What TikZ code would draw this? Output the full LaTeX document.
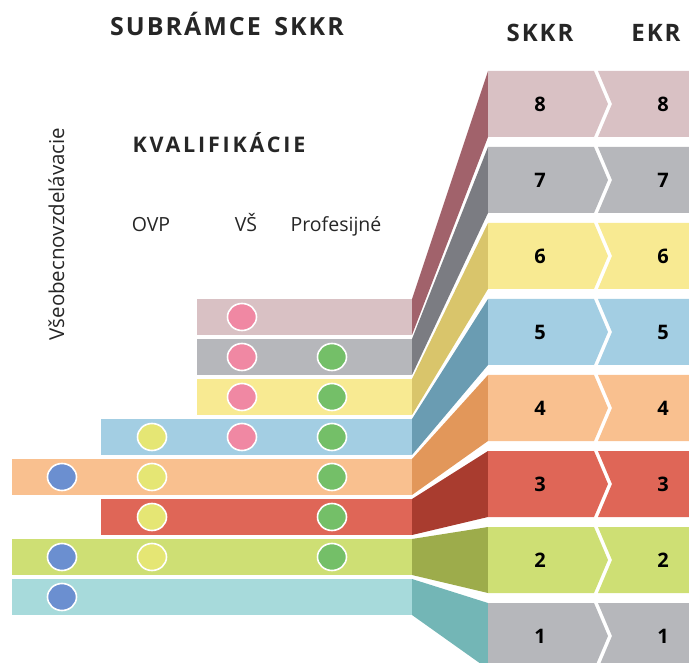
\documentclass[tikz,border=0pt]{standalone}
\usepackage{fontspec}
\setmainfont{Open Sans}
\newfontfamily\headfont[LetterSpace=8]{Open Sans}
\newfontfamily\kvalfont[LetterSpace=13]{Open Sans}
\usepackage{tikz}
\usetikzlibrary{positioning, shapes.geometric}

\definecolor{lv8}{HTML}{D9C1C4}\definecolor{fc8}{HTML}{A1626B}
\definecolor{lv7}{HTML}{B6B7BB}\definecolor{fc7}{HTML}{7B7C82}
\definecolor{lv6}{HTML}{F8EA92}\definecolor{fc6}{HTML}{D9C56B}
\definecolor{lv5}{HTML}{A3CEE3}\definecolor{fc5}{HTML}{6A9CB2}
\definecolor{lv4}{HTML}{F9C08F}\definecolor{fc4}{HTML}{E2975A}
\definecolor{lv3}{HTML}{DF6657}\definecolor{fc3}{HTML}{A93C2F}
\definecolor{lv2}{HTML}{CEDF74}\definecolor{fc2}{HTML}{9DAC4B}
\definecolor{lv1}{HTML}{A7DADB}\definecolor{fc1}{HTML}{73B6B6}
\definecolor{dotpink}{HTML}{F088A3}
\definecolor{dotgreen}{HTML}{74BF68}
\definecolor{dotyellow}{HTML}{E5E674}
\definecolor{dotblue}{HTML}{6B8FD0}

% one level: top of bar, left end of bar, top of block, colours
\newcommand{\level}[6]{%
  \fill[#5] (#2, #1) rectangle (412, #1+36);
  \fill[#6] (412, #1) -- (488, #3) -- (488, #3+66) -- (412, #1+36) -- cycle;
  \fill[#4] (488, #3) -- (594, #3) -- (608, #3+33) -- (594, #3+66) -- (488, #3+66) -- cycle;
  \fill[#4] (598, #3) -- (689, #3) -- (689, #3+66) -- (598, #3+66) -- (612, #3+33) -- cycle;
}

\begin{document}
\begin{tikzpicture}[x=1pt, y=-1pt,
  dot/.style={ellipse, draw=white, line width=1.6pt, minimum width=29pt, minimum height=27pt, inner sep=0pt},
  head/.style={anchor=base, font=\headfont\bfseries\fontsize{24}{28}\selectfont, text=black!85},
  colhead/.style={anchor=base, font=\fontsize{19.5}{22}\selectfont, text=black!85},
  num/.style={font=\bfseries\fontsize{20}{22}\selectfont}]

\useasboundingbox (0, 0) rectangle (689, 663);
\clip (0, 0) rectangle (689, 663);

% Levels
\level{299}{197}{71}{lv8}{lv8}{fc8}
\level{339}{197}{147}{lv7}{lv7}{fc7}
\level{379}{197}{223}{lv6}{lv6}{fc6}
\level{419}{101}{299}{lv5}{lv5}{fc5}
\level{459}{12}{375}{lv4}{lv4}{fc4}
\level{499}{101}{451}{lv3}{lv3}{fc3}
\level{539}{12}{527}{lv2}{lv2}{fc2}
\level{579}{12}{603}{lv7}{lv1}{fc1}

% Level numbers
\node[num] (s8) at (540, 104) {8};
\node[num] (s7) at (540, 180) {7};
\node[num] (s6) at (540, 256) {6};
\node[num] (s5) at (540, 332) {5};
\node[num] (s4) at (540, 408) {4};
\node[num] (s3) at (540, 484) {3};
\node[num] (s2) at (540, 560) {2};
\node[num] (s1) at (540, 636) {1};
\node[num] (e8) at (663, 104) {8};
\node[num] (e7) at (663, 180) {7};
\node[num] (e6) at (663, 256) {6};
\node[num] (e5) at (663, 332) {5};
\node[num] (e4) at (663, 408) {4};
\node[num] (e3) at (663, 484) {3};
\node[num] (e2) at (663, 560) {2};
\node[num] (e1) at (663, 636) {1};

% Qualifications
\node[dot, fill=dotpink] (vs8) at (242, 317) {};
\node[dot, fill=dotpink] (vs7) at (242, 357) {};
\node[dot, fill=dotgreen] (pr7) at (332, 357) {};
\node[dot, fill=dotpink] (vs6) at (242, 397) {};
\node[dot, fill=dotgreen] (pr6) at (332, 397) {};
\node[dot, fill=dotyellow] (ovp5) at (152, 437) {};
\node[dot, fill=dotpink] (vs5) at (242, 437) {};
\node[dot, fill=dotgreen] (pr5) at (332, 437) {};
\node[dot, fill=dotblue] (vv4) at (62, 477) {};
\node[dot, fill=dotyellow] (ovp4) at (152, 477) {};
\node[dot, fill=dotgreen] (pr4) at (332, 477) {};
\node[dot, fill=dotyellow] (ovp3) at (152, 517) {};
\node[dot, fill=dotgreen] (pr3) at (332, 517) {};
\node[dot, fill=dotblue] (vv2) at (62, 557) {};
\node[dot, fill=dotyellow] (ovp2) at (152, 557) {};
\node[dot, fill=dotgreen] (pr2) at (332, 557) {};
\node[dot, fill=dotblue] (vv1) at (62, 597) {};

% Headings
\node[head, font=\headfont\bfseries\fontsize{25}{29}\selectfont] (sub) at (227, 36) {SUBRÁMCE\hspace{5pt} SKKR};
\node[head, font=\kvalfont\bfseries\fontsize{21.5}{25}\selectfont] (kval) at (219, 153) {KVALIFIKÁCIE};
\node[head] (skkr) at (540, 42) {SKKR};
\node[head] (ekr) at (656, 42) {EKR};
\node[colhead] (ovp) at (151, 232) {OVP};
\node[colhead] (vs) at (246, 232) {VŠ};
\node[colhead] (prof) at (336, 232) {Profesijné};
\node[colhead, font=\fontsize{20.5}{24}\selectfont, rotate=90] (vseob) at (64, 234) {Všeobecnovzdelávacie};

\end{tikzpicture}
\end{document}
